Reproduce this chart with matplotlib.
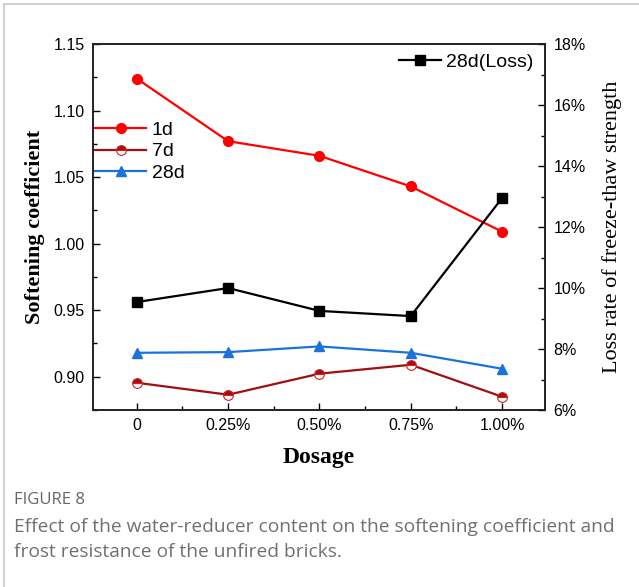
import matplotlib
matplotlib.use("Agg")
import matplotlib.pyplot as plt
from matplotlib.ticker import MultipleLocator, FuncFormatter, FixedLocator
from matplotlib.lines import Line2D

categories = ["0", "0.25%", "0.50%", "0.75%", "1.00%"]
soft_1d = [1.124, 1.077, 1.066, 1.043, 1.009]
soft_7d = [0.8955, 0.8865, 0.9023, 0.909, 0.885]
soft_28d = [0.918, 0.9185, 0.9228, 0.918, 0.906]
loss_28d = [9.54, 10.0, 9.25, 9.08, 12.95]

fig = plt.figure(figsize=(6.39, 5.87), dpi=100)
ax = fig.add_axes([0.1455, 0.3015, 0.7074, 0.6235])
ax2 = ax.twinx()

x = list(range(len(categories)))
c1, c7, c28 = "#ff0000", "#a01010", "#1a73d9"
ax.plot(x, soft_1d, color=c1, lw=1.6, marker="o", ms=7, label="1d", zorder=3)
ax.plot(x, soft_7d, color=c7, lw=1.6, marker="o", ms=7, fillstyle="top",
        markerfacecoloralt="white", markeredgecolor="#d02020", mew=0.8, label="7d", zorder=3)
ax.plot(x, soft_28d, color=c28, lw=1.6, marker="^", ms=7, label="28d", zorder=3)
ax2.plot(x, loss_28d, color="black", lw=1.6, marker="s", ms=6.5, label="28d(Loss)")

ax.set_xlim(-0.48, 4.47)
ax.set_ylim(0.875, 1.15)
ax2.set_ylim(6, 18)

tickfont = {"family": "Liberation Sans", "size": 11.5}
ax.set_xticks(x)
ax.set_xticklabels(categories, fontdict=tickfont)
ax.xaxis.set_minor_locator(FixedLocator([i + 0.5 for i in range(-1, 5)]))
ax.yaxis.set_major_locator(MultipleLocator(0.05))
ax.yaxis.set_minor_locator(MultipleLocator(0.025))
ax.yaxis.set_major_formatter(FuncFormatter(lambda v, p: f"{v:.2f}"))
ax2.yaxis.set_major_locator(MultipleLocator(2))
ax2.yaxis.set_minor_locator(MultipleLocator(1))
ax2.yaxis.set_major_formatter(FuncFormatter(lambda v, p: f"{v:.0f}%"))
for lab in ax.get_yticklabels() + ax2.get_yticklabels():
    lab.set_fontfamily("Liberation Sans")
    lab.set_fontsize(11.5)

ax.tick_params(axis="both", which="major", direction="in", length=5, width=1, pad=6)
ax.tick_params(axis="both", which="minor", direction="in", length=3, width=1)
ax2.tick_params(axis="y", which="major", direction="in", length=5, width=1, pad=6)
ax2.tick_params(axis="y", which="minor", direction="in", length=3, width=1)

for a in (ax, ax2):
    for s in a.spines.values():
        s.set_linewidth(1.2)
        s.set_color("#222222")

ax.set_ylabel("Softening coefficient", family="Liberation Serif", fontsize=16,
              fontweight="bold", labelpad=6)
ax.set_xlabel("Dosage", family="Liberation Serif", fontsize=17, fontweight="bold", labelpad=10)
ax2.set_ylabel("Loss rate of freeze-thaw strength", family="Liberation Serif", fontsize=16,
               labelpad=12)

leg1 = ax.legend(loc="upper left", bbox_to_anchor=(-0.012, 0.81), frameon=False,
                 prop={"family": "Liberation Sans", "size": 14}, handlelength=2.6,
                 handletextpad=0.3, labelspacing=0.2, borderaxespad=0.0)
leg2 = ax2.legend(loc="upper right", bbox_to_anchor=(0.992, 0.995), frameon=False,
                  prop={"family": "Liberation Sans", "size": 14}, handlelength=2.2,
                  handletextpad=0.25, borderaxespad=0.0)

fig.text(0.022, 0.148, "FIGURE 8", family="Open Sans", fontsize=12, color="#666666",
         va="center")
fig.text(0.022, 0.102, "Effect of the water-reducer content on the softening coefficient and",
         family="Open Sans", fontsize=13.8, color="#707070", va="center")
fig.text(0.022, 0.060, "frost resistance of the unfired bricks.",
         family="Open Sans", fontsize=13.8, color="#707070", va="center")

fig.add_artist(Line2D([0.006, 0.006], [0.0, 0.993], transform=fig.transFigure,
                      color="#c8c8c8", lw=1.2))
fig.add_artist(Line2D([0.006, 1.0], [0.993, 0.993], transform=fig.transFigure,
                      color="#c8c8c8", lw=1.2))

fig.savefig("out.png", dpi=100)
